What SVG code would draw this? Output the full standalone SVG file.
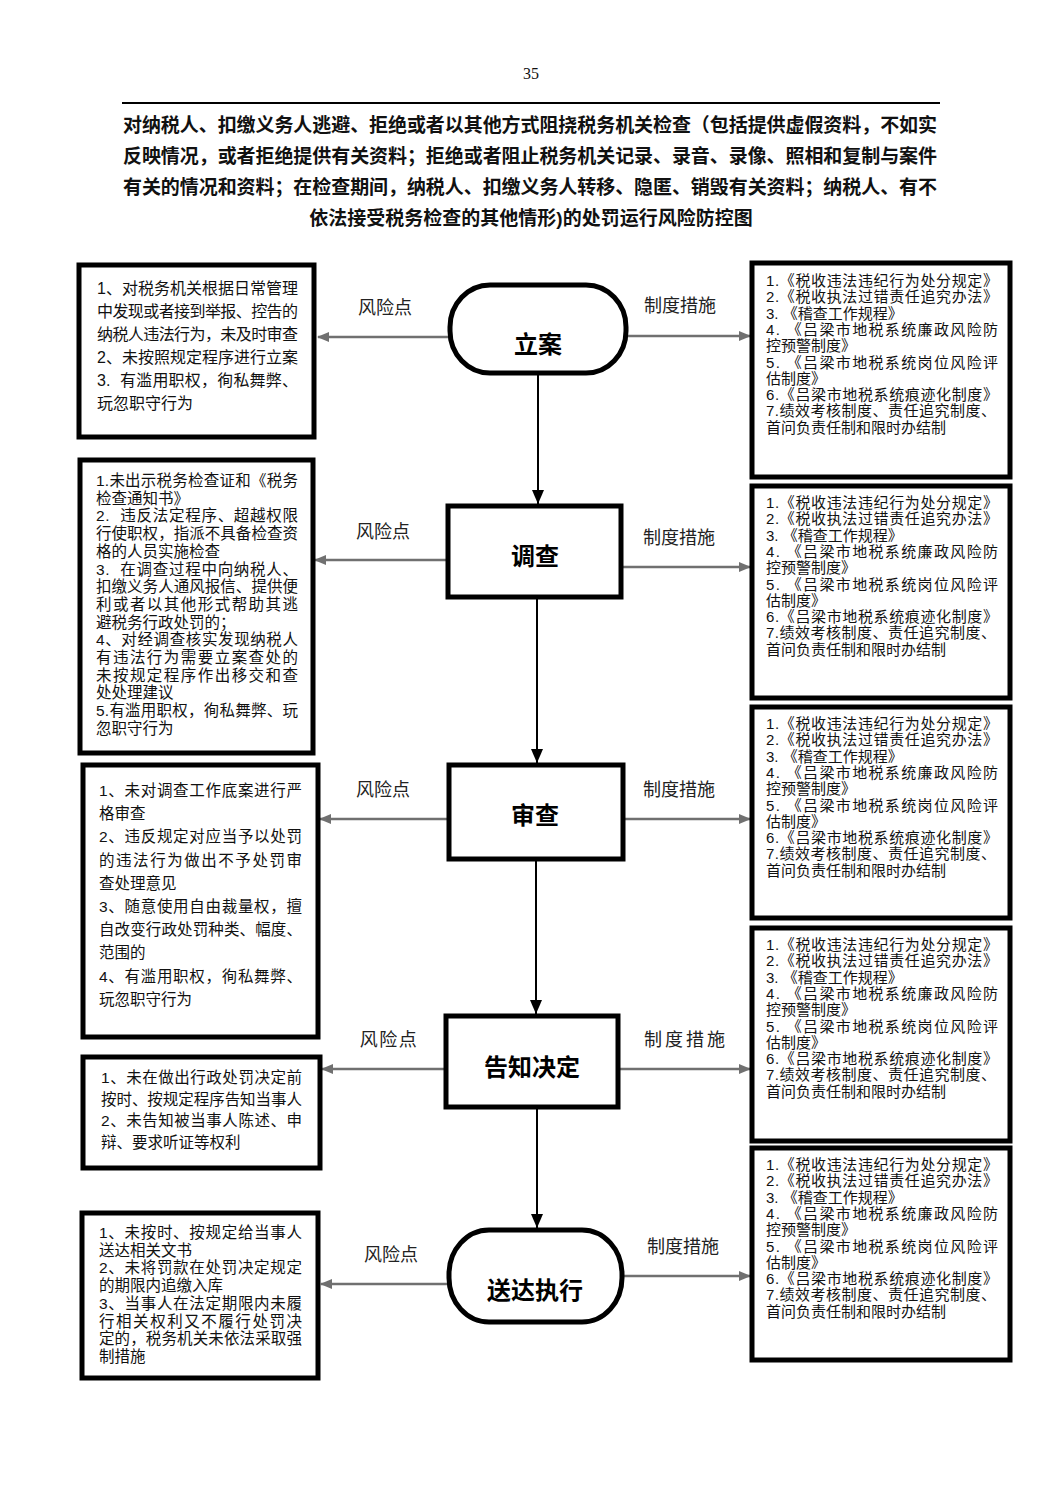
<svg xmlns="http://www.w3.org/2000/svg" width="1063" height="1502" viewBox="0 0 1063 1502">
<style>
text{font-family:"Liberation Sans","Noto Sans CJK SC",sans-serif;fill:#111;white-space:pre}
.pg{font-family:"Liberation Serif","Noto Sans CJK SC",serif;font-size:16px;text-anchor:middle}
.tt{font-size:19px;font-weight:bold}
.bx{fill:#fff;stroke:#000;stroke-width:5}
.nd{fill:#fff;stroke:#000;stroke-width:5}
.nl{font-size:24px;font-weight:bold;text-anchor:middle;fill:#000}
.lt{font-size:15.5px}
.l1{font-size:16px}
.rt{font-size:15px}
.lb{font-size:18px;fill:#222;text-anchor:middle}
.ga{stroke:#707070;stroke-width:2.5;fill:none}
.va{stroke:#000;stroke-width:2;fill:none}
</style>
<defs>
<marker id="ag" markerUnits="userSpaceOnUse" markerWidth="12" markerHeight="10" refX="11" refY="5" orient="auto">
<path d="M0,0 L12,5 L0,10 Z" fill="#707070"/>
</marker>
<marker id="ab" markerUnits="userSpaceOnUse" markerWidth="12" markerHeight="14" refX="14" refY="6" orient="auto">
<path d="M0,0 L14,6 L0,12 Z" fill="#000"/>
</marker>
</defs>
<rect width="1063" height="1502" fill="#fff"/>

<g id="header">
<text class="pg" x="531" y="79">35</text>
<line x1="122" y1="103" x2="940" y2="103" stroke="#000" stroke-width="2"/>
<text class="tt" x="123" y="132" textLength="814" lengthAdjust="spacing">对纳税人、扣缴义务人逃避、拒绝或者以其他方式阻挠税务机关检查（包括提供虚假资料，不如实</text>
<text class="tt" x="123" y="163" textLength="814" lengthAdjust="spacing">反映情况，或者拒绝提供有关资料；拒绝或者阻止税务机关记录、录音、录像、照相和复制与案件</text>
<text class="tt" x="123" y="194" textLength="814" lengthAdjust="spacing">有关的情况和资料；在检查期间，纳税人、扣缴义务人转移、隐匿、销毁有关资料；纳税人、有不</text>
<text class="tt" x="531" y="225" text-anchor="middle">依法接受税务检查的其他情形)的处罚运行风险防控图</text>
</g>

<g id="connectors">
<line class="va" x1="538" y1="375" x2="538" y2="504" marker-end="url(#ab)"/>
<line class="va" x1="537" y1="599" x2="537" y2="763" marker-end="url(#ab)"/>
<line class="va" x1="536" y1="861" x2="536" y2="1014" marker-end="url(#ab)"/>
<line class="va" x1="537" y1="1109" x2="537" y2="1228" marker-end="url(#ab)"/>

<line class="ga" x1="449" y1="337" x2="318" y2="337" marker-end="url(#ag)"/>
<line class="ga" x1="627" y1="336" x2="750" y2="336" marker-end="url(#ag)"/>
<line class="ga" x1="446" y1="560" x2="315" y2="560" marker-end="url(#ag)"/>
<line class="ga" x1="623" y1="567" x2="750" y2="567" marker-end="url(#ag)"/>
<line class="ga" x1="447" y1="819" x2="320" y2="819" marker-end="url(#ag)"/>
<line class="ga" x1="625" y1="819" x2="750" y2="819" marker-end="url(#ag)"/>
<line class="ga" x1="444" y1="1069" x2="322" y2="1069" marker-end="url(#ag)"/>
<line class="ga" x1="620" y1="1069" x2="750" y2="1069" marker-end="url(#ag)"/>
<line class="ga" x1="449" y1="1284" x2="321" y2="1284" marker-end="url(#ag)"/>
<line class="ga" x1="624" y1="1276" x2="750" y2="1276" marker-end="url(#ag)"/>

<text class="lb" x="385" y="314">风险点</text>
<text class="lb" x="680" y="312">制度措施</text>
<text class="lb" x="383" y="538">风险点</text>
<text class="lb" x="679" y="544">制度措施</text>
<text class="lb" x="383" y="796">风险点</text>
<text class="lb" x="679" y="796">制度措施</text>
<text class="lb" x="389" y="1046" letter-spacing="1.5">风险点</text>
<text class="lb" x="686" y="1046" letter-spacing="3">制度措施</text>
<text class="lb" x="391" y="1261">风险点</text>
<text class="lb" x="683" y="1253">制度措施</text>
</g>

<g id="n1">
<rect class="nd" x="450" y="285" width="176" height="88" rx="40" ry="42"/>
<text class="nl" x="538" y="353">立案</text>
</g>
<g id="n2">
<rect class="nd" x="448" y="506" width="173" height="91"/>
<text class="nl" x="535" y="565">调查</text>
</g>
<g id="n3">
<rect class="nd" x="449" y="765" width="174" height="94"/>
<text class="nl" x="535" y="824">审查</text>
</g>
<g id="n4">
<rect class="nd" x="446" y="1016" width="172" height="91"/>
<text class="nl" x="532" y="1076">告知决定</text>
</g>
<g id="n5">
<rect class="nd" x="449" y="1230" width="173" height="92" rx="40" ry="44"/>
<text class="nl" x="535" y="1299">送达执行</text>
</g>

<g id="risk1">
<rect class="bx" x="79" y="265" width="235" height="172"/>
<text class="l1" x="97" y="294" textLength="201" lengthAdjust="spacing">1、对税务机关根据日常管理</text>
<text class="l1" x="97" y="317" textLength="201" lengthAdjust="spacing">中发现或者接到举报、控告的</text>
<text class="l1" x="97" y="340" textLength="201" lengthAdjust="spacing">纳税人违法行为，未及时审查</text>
<text class="l1" x="97" y="363" textLength="201" lengthAdjust="spacing">2、未按照规定程序进行立案</text>
<text class="l1" x="97" y="386" textLength="201" lengthAdjust="spacing">3.  有滥用职权，徇私舞弊、</text>
<text class="l1" x="97" y="409">玩忽职守行为</text>
</g>

<g id="risk2">
<rect class="bx" x="80" y="460" width="233" height="293"/>
<text class="lt" x="96" y="486" textLength="202" lengthAdjust="spacing">1.未出示税务检查证和《税务</text>
<text class="lt" x="96" y="503.7">检查通知书》</text>
<text class="lt" x="96" y="521.4" textLength="202" lengthAdjust="spacing">2.  违反法定程序、超越权限</text>
<text class="lt" x="96" y="539.1" textLength="202" lengthAdjust="spacing">行使职权，指派不具备检查资</text>
<text class="lt" x="96" y="556.8">格的人员实施检查</text>
<text class="lt" x="96" y="574.5" textLength="202" lengthAdjust="spacing">3.  在调查过程中向纳税人、</text>
<text class="lt" x="96" y="592.2" textLength="202" lengthAdjust="spacing">扣缴义务人通风报信、提供便</text>
<text class="lt" x="96" y="609.9" textLength="202" lengthAdjust="spacing">利或者以其他形式帮助其逃</text>
<text class="lt" x="96" y="627.6">避税务行政处罚的；</text>
<text class="lt" x="96" y="645.3" textLength="202" lengthAdjust="spacing">4、对经调查核实发现纳税人</text>
<text class="lt" x="96" y="663" textLength="202" lengthAdjust="spacing">有违法行为需要立案查处的</text>
<text class="lt" x="96" y="680.7" textLength="202" lengthAdjust="spacing">未按规定程序作出移交和查</text>
<text class="lt" x="96" y="698.4">处处理建议</text>
<text class="lt" x="96" y="716.1" textLength="202" lengthAdjust="spacing">5.有滥用职权，徇私舞弊、玩</text>
<text class="lt" x="96" y="733.8">忽职守行为</text>
</g>

<g id="risk3">
<rect class="bx" x="83" y="765" width="235" height="272"/>
<text class="lt" x="99" y="796" textLength="203" lengthAdjust="spacing">1、未对调查工作底案进行严</text>
<text class="lt" x="99" y="819.2">格审查</text>
<text class="lt" x="99" y="842.4" textLength="203" lengthAdjust="spacing">2、违反规定对应当予以处罚</text>
<text class="lt" x="99" y="865.6" textLength="203" lengthAdjust="spacing">的违法行为做出不予处罚审</text>
<text class="lt" x="99" y="888.8">查处理意见</text>
<text class="lt" x="99" y="912" textLength="203" lengthAdjust="spacing">3、随意使用自由裁量权，擅</text>
<text class="lt" x="99" y="935.2" textLength="203" lengthAdjust="spacing">自改变行政处罚种类、幅度、</text>
<text class="lt" x="99" y="958.4">范围的</text>
<text class="lt" x="99" y="981.6" textLength="203" lengthAdjust="spacing">4、有滥用职权，徇私舞弊、</text>
<text class="lt" x="99" y="1004.8">玩忽职守行为</text>
</g>

<g id="risk4">
<rect class="bx" x="83" y="1057" width="237" height="111"/>
<text class="lt" x="101" y="1083" textLength="201" lengthAdjust="spacing">1、未在做出行政处罚决定前</text>
<text class="lt" x="101" y="1104.5" textLength="201" lengthAdjust="spacing">按时、按规定程序告知当事人</text>
<text class="lt" x="101" y="1126" textLength="201" lengthAdjust="spacing">2、未告知被当事人陈述、申</text>
<text class="lt" x="101" y="1147.5">辩、要求听证等权利</text>
</g>

<g id="risk5">
<rect class="bx" x="82" y="1213" width="236" height="165"/>
<text class="lt" x="99" y="1238" textLength="203" lengthAdjust="spacing">1、未按时、按规定给当事人</text>
<text class="lt" x="99" y="1255.7">送达相关文书</text>
<text class="lt" x="99" y="1273.4" textLength="203" lengthAdjust="spacing">2、未将罚款在处罚决定规定</text>
<text class="lt" x="99" y="1291.1">的期限内追缴入库</text>
<text class="lt" x="99" y="1308.8" textLength="203" lengthAdjust="spacing">3、当事人在法定期限内未履</text>
<text class="lt" x="99" y="1326.5" textLength="203" lengthAdjust="spacing">行相关权利又不履行处罚决</text>
<text class="lt" x="99" y="1344.2" textLength="203" lengthAdjust="spacing">定的，税务机关未依法采取强</text>
<text class="lt" x="99" y="1361.9">制措施</text>
</g>

<g id="measure1">
<rect class="bx" x="752" y="263" width="258" height="214"/>
<text class="rt" x="766" y="286" textLength="232" lengthAdjust="spacing">1.《税收违法违纪行为处分规定》</text>
<text class="rt" x="766" y="302.3" textLength="232" lengthAdjust="spacing">2.《税收执法过错责任追究办法》</text>
<text class="rt" x="766" y="318.6">3. 《稽查工作规程》</text>
<text class="rt" x="766" y="334.9" textLength="232" lengthAdjust="spacing">4. 《吕梁市地税系统廉政风险防</text>
<text class="rt" x="766" y="351.2">控预警制度》</text>
<text class="rt" x="766" y="367.5" textLength="232" lengthAdjust="spacing">5. 《吕梁市地税系统岗位风险评</text>
<text class="rt" x="766" y="383.8">估制度》</text>
<text class="rt" x="766" y="400.1" textLength="232" lengthAdjust="spacing">6.《吕梁市地税系统痕迹化制度》</text>
<text class="rt" x="766" y="416.4" textLength="230" lengthAdjust="spacing">7.绩效考核制度、责任追究制度、</text>
<text class="rt" x="766" y="432.7">首问负责任制和限时办结制</text>
</g>

<g id="measure2" transform="translate(0,222)">
<rect class="bx" x="752" y="264" width="258" height="212"/>
<text class="rt" x="766" y="286" textLength="232" lengthAdjust="spacing">1.《税收违法违纪行为处分规定》</text>
<text class="rt" x="766" y="302.3" textLength="232" lengthAdjust="spacing">2.《税收执法过错责任追究办法》</text>
<text class="rt" x="766" y="318.6">3. 《稽查工作规程》</text>
<text class="rt" x="766" y="334.9" textLength="232" lengthAdjust="spacing">4. 《吕梁市地税系统廉政风险防</text>
<text class="rt" x="766" y="351.2">控预警制度》</text>
<text class="rt" x="766" y="367.5" textLength="232" lengthAdjust="spacing">5. 《吕梁市地税系统岗位风险评</text>
<text class="rt" x="766" y="383.8">估制度》</text>
<text class="rt" x="766" y="400.1" textLength="232" lengthAdjust="spacing">6.《吕梁市地税系统痕迹化制度》</text>
<text class="rt" x="766" y="416.4" textLength="230" lengthAdjust="spacing">7.绩效考核制度、责任追究制度、</text>
<text class="rt" x="766" y="432.7">首问负责任制和限时办结制</text>
</g>

<g id="measure3" transform="translate(0,443)">
<rect class="bx" x="752" y="264" width="258" height="211"/>
<text class="rt" x="766" y="286" textLength="232" lengthAdjust="spacing">1.《税收违法违纪行为处分规定》</text>
<text class="rt" x="766" y="302.3" textLength="232" lengthAdjust="spacing">2.《税收执法过错责任追究办法》</text>
<text class="rt" x="766" y="318.6">3. 《稽查工作规程》</text>
<text class="rt" x="766" y="334.9" textLength="232" lengthAdjust="spacing">4. 《吕梁市地税系统廉政风险防</text>
<text class="rt" x="766" y="351.2">控预警制度》</text>
<text class="rt" x="766" y="367.5" textLength="232" lengthAdjust="spacing">5. 《吕梁市地税系统岗位风险评</text>
<text class="rt" x="766" y="383.8">估制度》</text>
<text class="rt" x="766" y="400.1" textLength="232" lengthAdjust="spacing">6.《吕梁市地税系统痕迹化制度》</text>
<text class="rt" x="766" y="416.4" textLength="230" lengthAdjust="spacing">7.绩效考核制度、责任追究制度、</text>
<text class="rt" x="766" y="432.7">首问负责任制和限时办结制</text>
</g>

<g id="measure4" transform="translate(0,664)">
<rect class="bx" x="752" y="264" width="258" height="213"/>
<text class="rt" x="766" y="286" textLength="232" lengthAdjust="spacing">1.《税收违法违纪行为处分规定》</text>
<text class="rt" x="766" y="302.3" textLength="232" lengthAdjust="spacing">2.《税收执法过错责任追究办法》</text>
<text class="rt" x="766" y="318.6">3. 《稽查工作规程》</text>
<text class="rt" x="766" y="334.9" textLength="232" lengthAdjust="spacing">4. 《吕梁市地税系统廉政风险防</text>
<text class="rt" x="766" y="351.2">控预警制度》</text>
<text class="rt" x="766" y="367.5" textLength="232" lengthAdjust="spacing">5. 《吕梁市地税系统岗位风险评</text>
<text class="rt" x="766" y="383.8">估制度》</text>
<text class="rt" x="766" y="400.1" textLength="232" lengthAdjust="spacing">6.《吕梁市地税系统痕迹化制度》</text>
<text class="rt" x="766" y="416.4" textLength="230" lengthAdjust="spacing">7.绩效考核制度、责任追究制度、</text>
<text class="rt" x="766" y="432.7">首问负责任制和限时办结制</text>
</g>

<g id="measure5" transform="translate(0,884)">
<rect class="bx" x="752" y="264" width="258" height="212"/>
<text class="rt" x="766" y="286" textLength="232" lengthAdjust="spacing">1.《税收违法违纪行为处分规定》</text>
<text class="rt" x="766" y="302.3" textLength="232" lengthAdjust="spacing">2.《税收执法过错责任追究办法》</text>
<text class="rt" x="766" y="318.6">3. 《稽查工作规程》</text>
<text class="rt" x="766" y="334.9" textLength="232" lengthAdjust="spacing">4. 《吕梁市地税系统廉政风险防</text>
<text class="rt" x="766" y="351.2">控预警制度》</text>
<text class="rt" x="766" y="367.5" textLength="232" lengthAdjust="spacing">5. 《吕梁市地税系统岗位风险评</text>
<text class="rt" x="766" y="383.8">估制度》</text>
<text class="rt" x="766" y="400.1" textLength="232" lengthAdjust="spacing">6.《吕梁市地税系统痕迹化制度》</text>
<text class="rt" x="766" y="416.4" textLength="230" lengthAdjust="spacing">7.绩效考核制度、责任追究制度、</text>
<text class="rt" x="766" y="432.7">首问负责任制和限时办结制</text>
</g>
</svg>
